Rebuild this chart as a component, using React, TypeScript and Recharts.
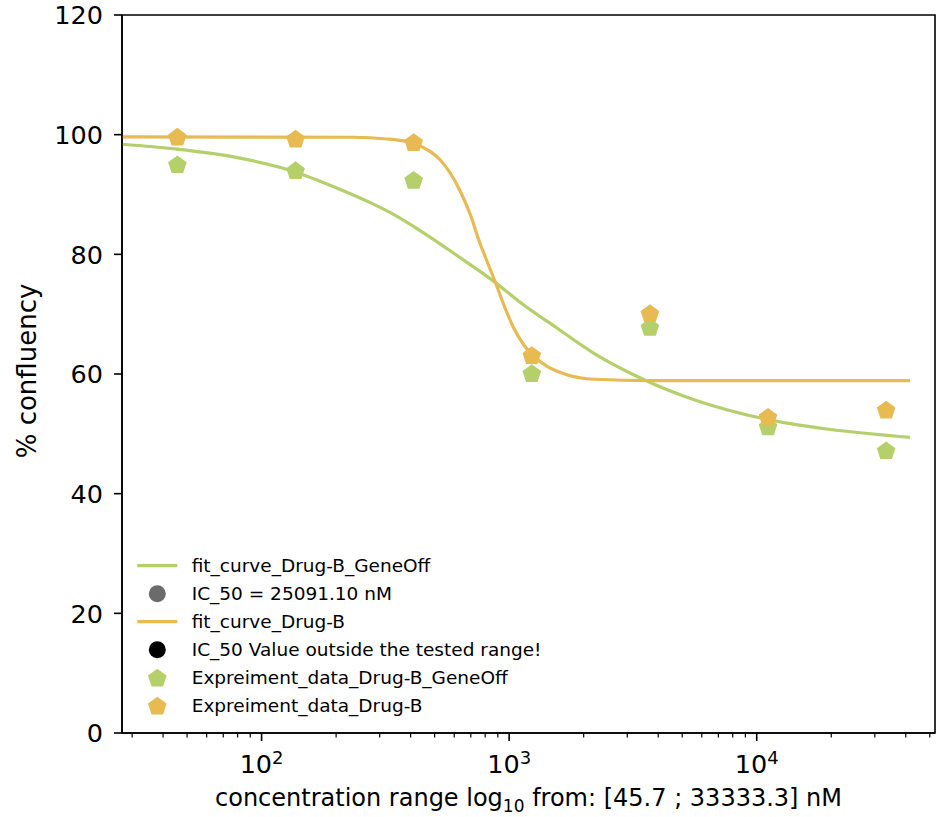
import React from "react"
import {
  ComposedChart,
  Line,
  Scatter,
  XAxis,
  YAxis,
  ReferenceArea,
  Legend,
} from "recharts"

const GREEN = "#b5cf6b"
const ORANGE = "#e7ba52"
const FONT = "DejaVu Sans"

// measured concentrations (nM), 3-fold dilution
const concentrations = [45.7, 137.2, 411.5, 1234.6, 3703.7, 11111.1, 33333.3]
const confluencyGeneOff = [94.9, 93.9, 92.3, 60.0, 67.7, 51.1, 47.1]
const confluencyDrugB = [99.5, 99.2, 98.6, 63.0, 70.0, 52.7, 53.9]

// fitted curves
const fitGeneOffX = [27.3, 45, 79, 134, 201, 283, 330, 451, 616, 841, 1149, 1570, 2210, 3524, 5623, 10480, 19540, 41600]
const fitGeneOffY = [98.4, 97.6, 96.2, 93.9, 91.1, 88.4, 87.0, 83.6, 79.8, 75.9, 71.5, 67.6, 63.4, 59.0, 55.66, 52.6, 50.76, 49.42]
const fitDrugBX = [27.3, 234, 321, 386, 410, 481, 527, 579, 636, 698, 754, 816, 882, 953, 1045, 1147, 1241, 1429, 1723, 2207, 3750, 41600]
const fitDrugBY = [99.62, 99.57, 99.28, 98.83, 98.56, 97.16, 95.77, 93.55, 90.47, 86.58, 82.4, 78.72, 75.21, 71.49, 67.64, 64.85, 63.18, 61.22, 59.84, 59.12, 58.88, 58.88]

const xDomain = [27.3, 52500]
const majorTicks = [100, 1000, 10000]
const majorTickExp = ["2", "3", "4"]
const minorTicks = [
  30, 40, 50, 60, 70, 80, 90,
  200, 300, 400, 500, 600, 700, 800, 900,
  2000, 3000, 4000, 5000, 6000, 7000, 8000, 9000,
  20000, 30000, 40000, 50000,
]
const yTicks = [0, 20, 40, 60, 80, 100, 120]

const legendItems = [
  { label: "fit_curve_Drug-B_GeneOff", kind: "line", color: GREEN },
  { label: "IC_50 = 25091.10 nM", kind: "circle", color: "#6b6b6b" },
  { label: "fit_curve_Drug-B", kind: "line", color: ORANGE },
  { label: "IC_50 Value outside the tested range!", kind: "circle", color: "#000000" },
  { label: "Expreiment_data_Drug-B_GeneOff", kind: "pentagon", color: GREEN },
  { label: "Expreiment_data_Drug-B", kind: "pentagon", color: ORANGE },
]

const zip = (xs: number[], ys: number[]) => xs.map((x, i) => ({ x, y: ys[i] }))
const geneOffPoints = zip(concentrations, confluencyGeneOff)
const drugBPoints = zip(concentrations, confluencyDrugB)
const geneOffFit = zip(fitGeneOffX, fitGeneOffY)
const drugBFit = zip(fitDrugBX, fitDrugBY)

function pentagonPath(cx: number, cy: number, r: number) {
  const pts = []
  for (let k = 0; k < 5; k++) {
    const a = -Math.PI / 2 + (k * 2 * Math.PI) / 5
    pts.push(`${cx + r * Math.cos(a)},${cy + r * Math.sin(a)}`)
  }
  return pts.join(" ")
}

const makePentagon = (color: string) => (props: any) => {
  const { cx, cy } = props
  if (cx == null || cy == null) return <g />
  return <polygon points={pentagonPath(cx, cy, 9.8)} fill={color} />
}

const XTick = (props: any) => {
  const { x, y, payload } = props
  const idx = majorTicks.indexOf(payload.value)
  const major = idx >= 0
  return (
    <g>
      <line x1={x} x2={x} y1={y} y2={y + (major ? 8 : 4.5)} stroke="#000" strokeWidth={major ? 1.6 : 1.2} />
      {major && (
        <text x={x} y={y + 40} textAnchor="middle" fontSize={25.5} fontFamily={FONT} fill="#000">
          10
          <tspan dy={-9} fontSize={18}>
            {majorTickExp[idx]}
          </tspan>
        </text>
      )}
    </g>
  )
}

const YTick = (props: any) => {
  const { x, y, payload } = props
  return (
    <g>
      <line x1={x - 8} x2={x} y1={y} y2={y} stroke="#000" strokeWidth={1.6} />
      <text x={x - 19} y={y + 9.3} textAnchor="end" fontSize={25.5} fontFamily={FONT} fill="#000">
        {payload.value}
      </text>
    </g>
  )
}

const LegendBox = () => (
  <svg width={440} height={175} style={{ display: "block" }}>
    {legendItems.map((it, i) => {
      const cy = 15.7 + i * 28
      let mark
      if (it.kind === "line") {
        mark = <line x1={7.3} x2={47.3} y1={cy} y2={cy} stroke={it.color} strokeWidth={3.2} />
      } else if (it.kind === "circle") {
        mark = <circle cx={27.3} cy={cy} r={8.5} fill={it.color} />
      } else {
        mark = <polygon points={pentagonPath(27.3, cy + 0.8, 9.8)} fill={it.color} />
      }
      return (
        <g key={it.label}>
          {mark}
          <text x={61.7} y={cy + 6.6} fontSize={18.5} fontFamily={FONT} fill="#000">
            {it.label}
          </text>
        </g>
      )
    })}
  </svg>
)

const YLabel = (props: any) => {
  const vb = props.viewBox || { x: 0, y: 15, width: 122, height: 718 }
  const cy = vb.y + vb.height / 2 - 3
  return (
    <text x={36} y={cy} transform={`rotate(-90, 36, ${cy})`} textAnchor="middle" fontSize={26} fontFamily={FONT} fill="#000">
      % confluency
    </text>
  )
}

const XLabel = (props: any) => {
  const vb = props.viewBox || { x: 122, y: 733, width: 813, height: 84 }
  const cx = vb.x + vb.width / 2
  return (
    <text x={cx} y={vb.y + 73} textAnchor="middle" fontSize={24} fontFamily={FONT} fill="#000">
      concentration range log
      <tspan dy={6} fontSize={17}>10</tspan>
      <tspan dy={-6}> from: [45.7 ; 33333.3] nM</tspan>
    </text>
  )
}

export default function App() {
  return (
    <div style={{ position: "absolute", left: 0, top: 0, width: 937, height: 817, background: "#fff" }}>
      <ComposedChart width={937} height={817} margin={{ top: 15, right: 2, bottom: 0, left: 0 }}>
        <XAxis
          dataKey="x"
          type="number"
          scale="log"
          domain={xDomain}
          allowDataOverflow
          ticks={[...minorTicks, ...majorTicks].sort((a, b) => a - b)}
          interval={0}
          tick={<XTick />}
          tickLine={false}
          tickSize={0}
          tickMargin={0}
          axisLine={{ stroke: "#000", strokeWidth: 1.6 }}
          height={84}
          label={{ content: XLabel }}
        />
        <YAxis
          type="number"
          domain={[0, 120]}
          ticks={yTicks}
          interval={0}
          tick={<YTick />}
          tickLine={false}
          tickSize={0}
          tickMargin={0}
          axisLine={{ stroke: "#000", strokeWidth: 1.6 }}
          width={122}
          label={{ content: YLabel }}
        />
        <ReferenceArea
          x1={xDomain[0]}
          x2={xDomain[1]}
          y1={0}
          y2={120}
          fill="none"
          stroke="#000"
          strokeWidth={1.6}
          ifOverflow="visible"
        />
        <Line data={geneOffFit} dataKey="y" type="monotone" stroke={GREEN} strokeWidth={3.2} dot={false} activeDot={false} isAnimationActive={false} />
        <Line data={drugBFit} dataKey="y" type="monotone" stroke={ORANGE} strokeWidth={3.2} dot={false} activeDot={false} isAnimationActive={false} />
        <Scatter data={geneOffPoints} dataKey="y" fill={GREEN} shape={makePentagon(GREEN)} isAnimationActive={false} />
        <Scatter data={drugBPoints} dataKey="y" fill={ORANGE} shape={makePentagon(ORANGE)} isAnimationActive={false} />
        <Legend
          layout="vertical"
          align="center"
          verticalAlign="middle"
          content={LegendBox}
          wrapperStyle={{ left: 130, top: 550, width: 440, height: 175 }}
        />
      </ComposedChart>
    </div>
  )
}
